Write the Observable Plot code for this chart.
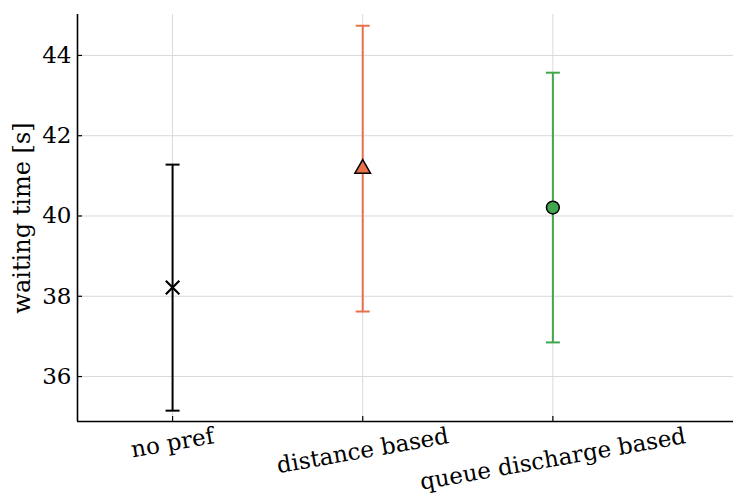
<!DOCTYPE html>
<html><head><meta charset="utf-8">
<script src="https://cdn.jsdelivr.net/npm/d3@7"></script>
<script src="https://cdn.jsdelivr.net/npm/@observablehq/plot@0.6"></script>
<style>body{margin:0;background:#fff}</style>
</head><body><div id="chart"></div>
<script>
const categories = ["no pref", "distance based", "queue discharge based"];
const means = [38.22, 41.18, 40.21];
const lows = [35.15, 37.62, 36.85];
const highs = [41.28, 44.74, 43.57];
const colors = ["#000000", "#e8704a", "#41a64d"];
const symbols = ["times", "triangle", "circle"];
const yTicks = [36, 38, 40, 42, 44];
const yLabel = "waiting time [s]";

const xDomain = [-0.5, 2.95];
const yDomain = [34.88, 45.02];
const font = "'DejaVu Serif', serif";
const fs = 23;

const ctx = document.createElement("canvas").getContext("2d");
ctx.font = `${fs}px ${font}`;
const theta = 10 * Math.PI / 180;
const lineH = fs * 1.17;

const data = categories.map((c, i) => ({i, cat: c, mean: means[i], lo: lows[i], hi: highs[i], color: colors[i], sym: symbols[i]}));

const capSymbol = {draw(context, size) { const w = Math.sqrt(size / Math.PI); context.moveTo(-w, 0); context.lineTo(w, 0); }};

const markerStyle = {
  times: {r: 6.2, stroke: "#000", strokeWidth: 2.2, fill: "none"},
  triangle: {r: 5.8, stroke: "#000", strokeWidth: 1.5},
  circle: {r: 6.4, stroke: "#000", strokeWidth: 1.5}
};

const markers = data.map(d => Plot.dot([d], {x: "i", y: "mean", symbol: d.sym, fill: d.sym === "times" ? "none" : d.color, ...markerStyle[d.sym]}));

const labels = data.map(d => {
  const w = ctx.measureText(d.cat).width;
  const bh = w * Math.sin(theta) + lineH * Math.cos(theta);
  return Plot.text([d], {x: "i", text: "cat", frameAnchor: "bottom", dy: 1 + bh / 2, rotate: -10, textAnchor: "middle", lineAnchor: "middle", fontSize: fs});
});

const chart = Plot.plot({
  width: 734,
  height: 496,
  marginLeft: 77,
  marginTop: 14,
  marginRight: 1,
  marginBottom: 75,
  style: {fontFamily: font, fontSize: fs + "px", color: "#000", background: "#fff"},
  x: {type: "linear", domain: xDomain},
  y: {domain: yDomain},
  marks: [
    Plot.gridY(yTicks, {stroke: "#d9d9d9", strokeOpacity: 1, strokeWidth: 1}),
    Plot.gridX([0, 1, 2], {stroke: "#d9d9d9", strokeOpacity: 1, strokeWidth: 1}),
    Plot.axisY(yTicks, {tickSize: -5, tickPadding: 11, label: null, fontSize: fs, strokeWidth: 1.2}),
    Plot.axisX([0, 1, 2], {tickSize: -5, tickFormat: () => "", label: null, strokeWidth: 1.2}),
    Plot.ruleX([xDomain[0]], {strokeWidth: 1.6}),
    Plot.ruleY([yDomain[0]], {strokeWidth: 1.6}),
    Plot.ruleX(data, {x: "i", y1: "lo", y2: "hi", stroke: "color", strokeWidth: 2}),
    Plot.dot(data, {x: "i", y: "hi", symbol: capSymbol, r: 7, stroke: "color", strokeWidth: 2}),
    Plot.dot(data, {x: "i", y: "lo", symbol: capSymbol, r: 7, stroke: "color", strokeWidth: 2}),
    ...markers,
    ...labels,
    Plot.text([yLabel], {frameAnchor: "left", dx: -55, rotate: -90, fontSize: 24, textAnchor: "middle", lineAnchor: "middle"})
  ]
});
document.getElementById("chart").appendChild(chart);
</script>
</body></html>
